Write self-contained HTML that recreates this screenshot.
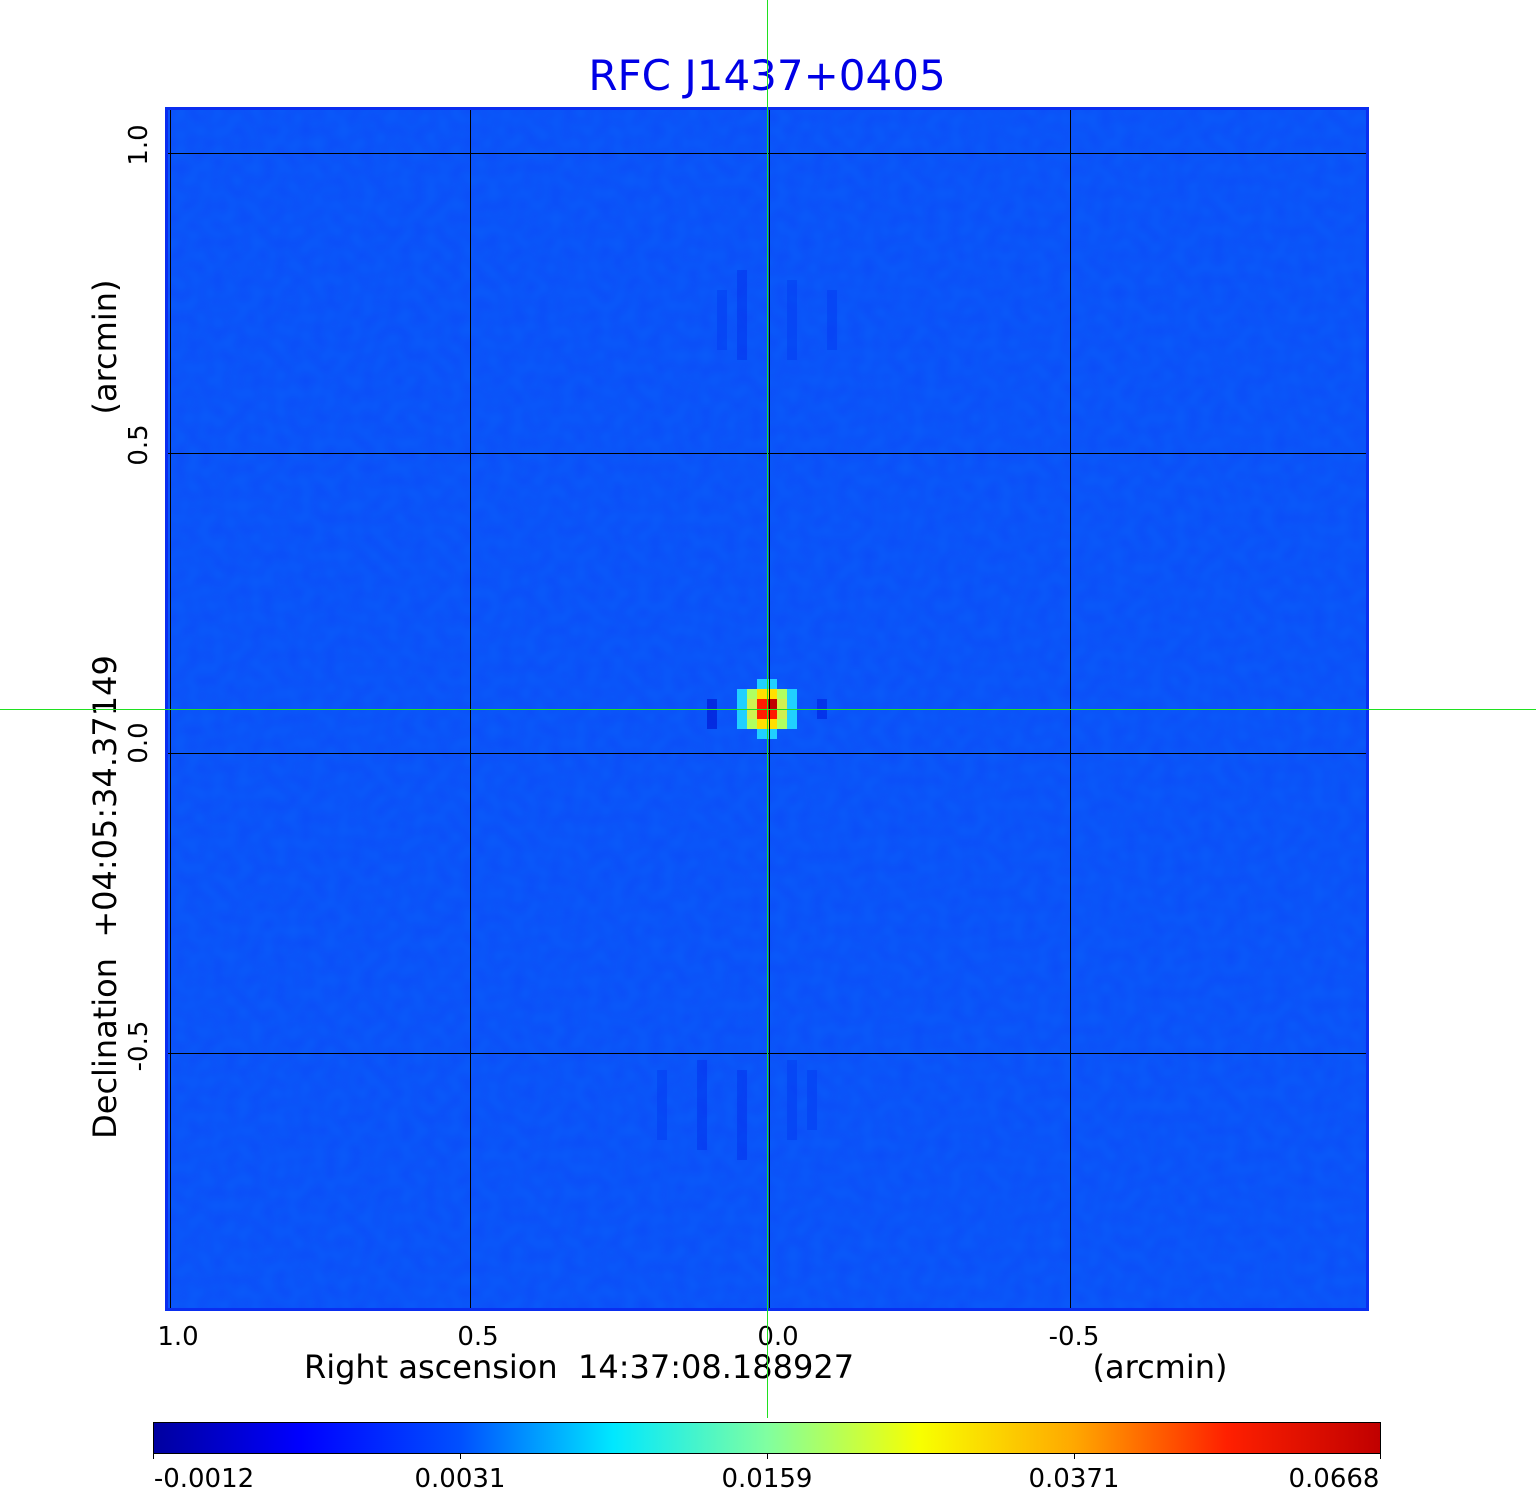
<!DOCTYPE html>
<html><head><meta charset="utf-8"><style>
html,body{margin:0;padding:0;background:#fff;}
svg{display:block;font-family:"DejaVu Sans","Liberation Sans",sans-serif;}
</style></head><body>
<svg width="1536" height="1511" viewBox="0 0 1536 1511" xmlns="http://www.w3.org/2000/svg">
<defs>
<linearGradient id="jet" x1="0" x2="1" y1="0" y2="0">
<stop offset="0" stop-color="#00009f"/>
<stop offset="0.12" stop-color="#0000ff"/>
<stop offset="0.25" stop-color="#0050ff"/>
<stop offset="0.375" stop-color="#00e8ff"/>
<stop offset="0.5" stop-color="#80ffa0"/>
<stop offset="0.625" stop-color="#f8ff00"/>
<stop offset="0.75" stop-color="#ffa800"/>
<stop offset="0.875" stop-color="#ff2000"/>
<stop offset="1" stop-color="#c00000"/>
</linearGradient>
<filter id="noise" x="0" y="0" width="100%" height="100%">
<feTurbulence type="fractalNoise" baseFrequency="0.08" numOctaves="1" seed="3"/>
<feColorMatrix type="matrix" values="0 0 0 0 0  0 0 0 0 0.4  0 0 0 0 1  0 0 0 0.35 0"/>
</filter>
</defs>
<text x="767" y="90" fill="#0000e6" font-size="42" text-anchor="middle">RFC J1437+0405</text>
<rect x="165" y="107" width="1204" height="1204" fill="#0a2ef0"/>
<rect x="168" y="110" width="1198" height="1198" fill="#0c4cf8"/>
<rect x="168" y="110" width="1198" height="1198" filter="url(#noise)" opacity="0.5"/>
<g opacity="0.35">
<rect x="737" y="270" width="10" height="90" fill="#0020e8"/>
<rect x="717" y="290" width="10" height="60" fill="#0030f0"/>
<rect x="787" y="280" width="10" height="80" fill="#0030f0"/>
<rect x="827" y="290" width="10" height="60" fill="#0030f0"/>
<rect x="657" y="1070" width="10" height="70" fill="#0030f0"/>
<rect x="697" y="1060" width="10" height="90" fill="#0020e8"/>
<rect x="737" y="1070" width="10" height="90" fill="#0020e8"/>
<rect x="787" y="1060" width="10" height="80" fill="#0030f0"/>
<rect x="807" y="1070" width="10" height="60" fill="#0030f0"/>
</g>
<g opacity="0.6">
<rect x="707" y="699" width="10" height="30" fill="#0010d0"/>
<rect x="817" y="699" width="10" height="20" fill="#0020e0"/>
</g>
<rect x="757" y="679" width="20" height="60" fill="#20d0ff"/>
<rect x="737" y="689" width="60" height="40" fill="#20d0ff"/>
<rect x="747" y="689" width="40" height="40" fill="#b0ff60"/>
<rect x="757" y="689" width="20" height="40" fill="#ffe000"/>
<rect x="747" y="699" width="40" height="20" fill="#d0f050"/>
<rect x="757" y="699" width="20" height="20" fill="#ff1a00"/>
<rect x="767" y="699" width="10" height="10" fill="#c00000"/>
<g fill="#000">
<rect x="170" y="110" width="1" height="1198"/>
<rect x="470" y="110" width="1" height="1198"/>
<rect x="769" y="110" width="1" height="1198"/>
<rect x="1070" y="110" width="1" height="1198"/>
<rect x="168" y="153" width="1198" height="1"/>
<rect x="168" y="453" width="1198" height="1"/>
<rect x="168" y="753" width="1198" height="1"/>
<rect x="168" y="1053" width="1198" height="1"/>
</g>
<g font-size="26" fill="#000" text-anchor="middle">
<text x="178" y="1345">1.0</text>
<text x="478" y="1345">0.5</text>
<text x="778" y="1345">0.0</text>
<text x="1074" y="1345">-0.5</text>
</g>
<text x="579" y="1378" font-size="32" text-anchor="middle">Right ascension&#160; 14:37:08.188927</text>
<text x="1160" y="1378" font-size="32" text-anchor="middle">(arcmin)</text>
<g font-size="26" fill="#000" text-anchor="middle">
<text transform="translate(147,145) rotate(-90)">1.0</text>
<text transform="translate(147,445) rotate(-90)">0.5</text>
<text transform="translate(147,743) rotate(-90)">0.0</text>
<text transform="translate(147,1046) rotate(-90)">-0.5</text>
</g>
<text transform="translate(116,897) rotate(-90)" font-size="32" text-anchor="middle">Declination&#160; +04:05:34.37149</text>
<text transform="translate(116,347) rotate(-90)" font-size="32" text-anchor="middle">(arcmin)</text>
<rect x="153.5" y="1422.5" width="1227" height="31" fill="url(#jet)" stroke="#000" stroke-width="1"/>
<g fill="#000">
<rect x="153" y="1453" width="1" height="6"/>
<rect x="460" y="1453" width="1" height="6"/>
<rect x="767" y="1453" width="1" height="6"/>
<rect x="1074" y="1453" width="1" height="6"/>
<rect x="1380" y="1453" width="1" height="6"/>
</g>
<g font-size="26" fill="#000" text-anchor="middle">
<text x="204" y="1487">-0.0012</text>
<text x="460" y="1487">0.0031</text>
<text x="767" y="1487">0.0159</text>
<text x="1074" y="1487">0.0371</text>
<text x="1334" y="1487">0.0668</text>
</g>
<rect x="767" y="0" width="1" height="1418" fill="#20e020"/>
<rect x="0" y="709" width="1536" height="1" fill="#20e020"/>
</svg>
</body></html>
